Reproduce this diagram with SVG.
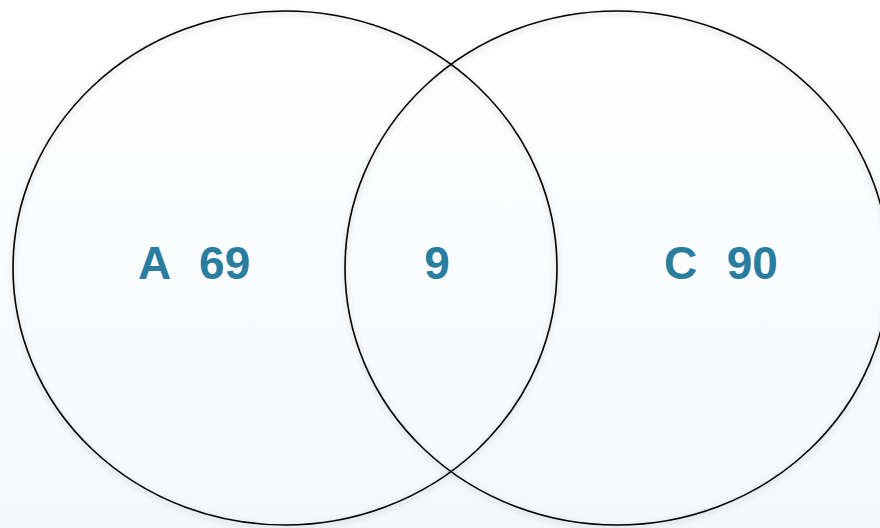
<svg xmlns="http://www.w3.org/2000/svg" width="880" height="528" viewBox="0 0 880 528">
  <defs>
    <linearGradient id="bg" x1="0" y1="0" x2="0" y2="1">
      <stop offset="0" stop-color="#ffffff"/>
      <stop offset="1" stop-color="#f5f8fb"/>
    </linearGradient>
    <filter id="sh" x="-10%" y="-10%" width="120%" height="120%">
      <feGaussianBlur in="SourceAlpha" stdDeviation="3"/>
      <feOffset dx="0" dy="2" result="b"/>
      <feComponentTransfer><feFuncA type="linear" slope="0.25"/></feComponentTransfer>
      <feMerge><feMergeNode/><feMergeNode in="SourceGraphic"/></feMerge>
    </filter>
    <style>
      .set { fill: none; stroke: #000000; stroke-width: 1.6; }
      .lbl { font-family: "Liberation Sans", Arial, sans-serif; font-weight: bold; font-size: 46px; fill: #2b7da0; word-spacing: 2px; }
    </style>
  </defs>
  <rect width="880" height="528" fill="url(#bg)"/>
  <g id="setA">
    <ellipse class="set" cx="285" cy="268" rx="272" ry="257" filter="url(#sh)"/>
    <text class="lbl" x="138" y="279" xml:space="preserve">A  69</text>
  </g>
  <g id="setC">
    <ellipse class="set" cx="617" cy="268" rx="272" ry="257" filter="url(#sh)"/>
    <text class="lbl" x="664" y="279" xml:space="preserve">C  90</text>
  </g>
  <g id="intersection">
    <text class="lbl" x="437" y="279" text-anchor="middle">9</text>
  </g>
  <g id="connectors"/>
</svg>
